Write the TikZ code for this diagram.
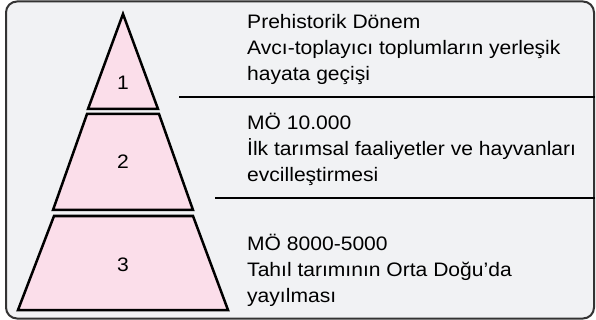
\documentclass[tikz,border=0pt]{standalone}
\usepackage{fontspec}
\setmainfont{Liberation Sans}[FakeStretch=1.08]
\usetikzlibrary{shapes,arrows}
\definecolor{layerpink}{RGB}{251,222,234}
\definecolor{panelgray}{RGB}{241,242,244}
\definecolor{framegray}{RGB}{51,51,51}
\tikzstyle{frame} = [rectangle, draw=framegray, fill=panelgray, line width=2pt,
    rounded corners=11pt, minimum width=588pt, minimum height=317pt, inner sep=0pt]
\tikzstyle{layer} = [draw=black, fill=layerpink, line width=2.5pt, line join=miter]
\tikzstyle{num} = [font=\fontsize{19.5}{26}\selectfont, inner sep=0pt]
\tikzstyle{info} = [font=\fontsize{19.5}{26}\selectfont, align=left, anchor=base west, inner sep=0pt]
\tikzstyle{line} = [draw=black, line width=2pt]

\begin{document}
\begin{tikzpicture}[x=1pt, y=-1pt]
		\useasboundingbox (0,0) rectangle (596,320);
		\node [frame] (frame) at (300,160) {};
		
		% pyramid layers
		\path [layer] (123,14) -- (158,109) -- (88,109) -- cycle;
		\path [layer] (87,114) -- (159,114) -- (193,210) -- (53,210) -- cycle;
		\path [layer] (54,216) -- (193,216) -- (228,310) -- (18,310) -- cycle;
		
		\node [num] (one) at (123,83) {1};
		\node [num] (two) at (123,162) {2};
		\node [num] (three) at (123,265) {3};
		
		% base anchor sits on the last line
		\node [info] (prehist) at (247,81) {Prehistorik Dönem\\Avcı-toplayıcı toplumların yerleşik\\hayata geçişi};
		\node [info] (mo10000) at (247,181.5) {MÖ 10.000\\İlk tarımsal faaliyetler ve hayvanları\\evcilleştirmesi};
		\node [info] (mo8000) at (247,302) {MÖ 8000-5000\\Tahıl tarımının Orta Doğu’da\\yayılması};
		
		\coordinate (rule1) at (179,97);
		\coordinate (rule2) at (215,198);
		\path [line] (rule1) -- (rule1 -| frame.east);
		\path [line] (rule2) -- (rule2 -| frame.east);
	\end{tikzpicture}
\end{document}
